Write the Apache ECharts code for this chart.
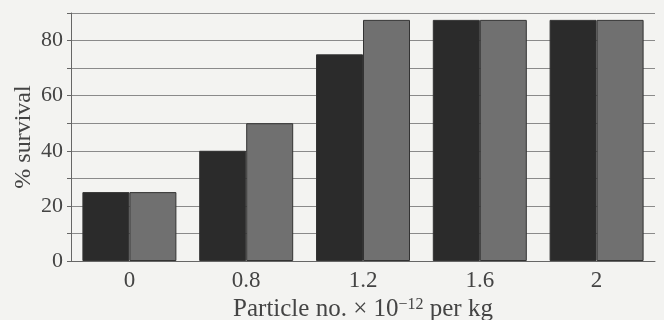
<!DOCTYPE html>
<html>
<head>
<meta charset="utf-8">
<script src="https://cdn.jsdelivr.net/npm/echarts@6/dist/echarts.min.js"></script>
<style>
  html, body { margin: 0; padding: 0; background: #f3f3f1; }
  #chart { width: 664px; height: 320px; }
</style>
</head>
<body>
<div id="chart"></div>
<script>
const categories = ["0", "0.8", "1.2", "1.6", "2"];
const darkValues = [25, 40, 75, 87.5, 87.5];
const greyValues = [25, 50, 87.5, 87.5, 87.5];

const chart = echarts.init(document.getElementById("chart"));
const serif = "'Liberation Serif', serif";

chart.setOption({
  backgroundColor: "#f3f3f1",
  animation: false,
  grid: { left: 71, right: 9, top: 13, bottom: 59, outerBoundsMode: "none", containLabel: false },
  xAxis: {
    type: "category",
    data: categories,
    axisLine: { lineStyle: { color: "#666", width: 1 } },
    axisTick: { inside: true, length: 4, lineStyle: { color: "#666" } },
    axisLabel: { color: "#444", fontFamily: serif, fontSize: 23, margin: 8 },
    name: "Particle no. × 10{sup|−12} per kg",
    nameLocation: "middle",
    nameGap: 30,
    nameTextStyle: {
      color: "#444",
      fontFamily: serif,
      fontSize: 25,
      rich: { sup: { fontFamily: serif, fontSize: 16, verticalAlign: "top", padding: [0, 0, 9, 0], color: "#444" } },
    },
  },
  yAxis: {
    type: "value",
    min: 0,
    max: 90,
    interval: 10,
    axisLine: { show: true, lineStyle: { color: "#666", width: 1 } },
    axisTick: { show: true, length: 4, lineStyle: { color: "#666" } },
    axisLabel: {
      color: "#444",
      fontFamily: serif,
      fontSize: 22,
      margin: 8,
      formatter: (v) => (v % 20 === 0 && v <= 80 ? String(v) : ""),
    },
    splitLine: { lineStyle: { color: "#8a8a8a", width: 1 } },
    name: "% survival",
    nameLocation: "middle",
    nameMoveOverlap: false,
    nameGap: 35,
    nameTextStyle: { color: "#444", fontFamily: serif, fontSize: 24 },
  },
  series: [
    {
      type: "bar",
      data: darkValues,
      barWidth: 47,
      barGap: "0%",
      itemStyle: { color: "#2b2b2b", borderColor: "#333", borderWidth: 1 },
    },
    {
      type: "bar",
      data: greyValues,
      barWidth: 47,
      itemStyle: { color: "#707070", borderColor: "#333", borderWidth: 1 },
    },
  ],
});
</script>
</body>
</html>
